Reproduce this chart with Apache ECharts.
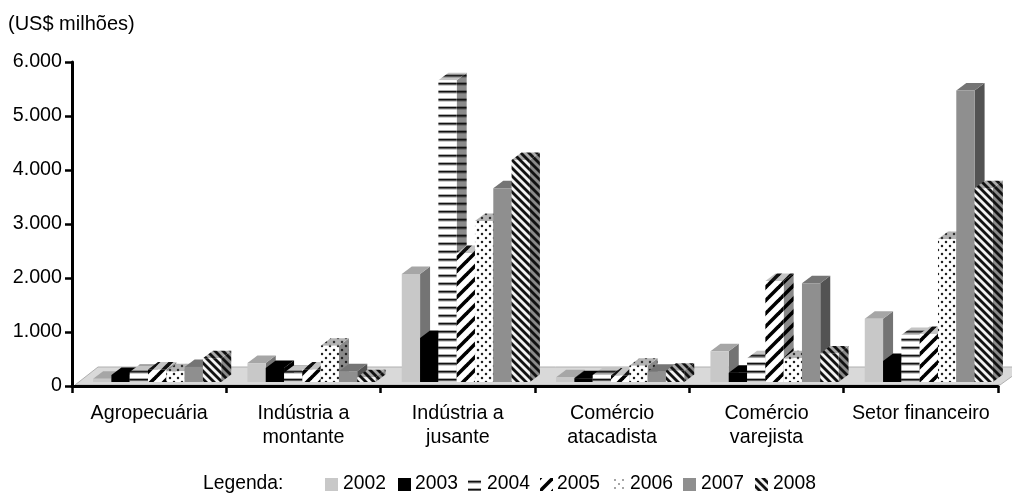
<!DOCTYPE html>
<html><head><meta charset="utf-8">
<script src="https://cdn.jsdelivr.net/npm/echarts@6/dist/echarts.min.js"></script>
<style>html,body{margin:0;padding:0;background:#fff}#c{width:1012px;height:493px}</style>
</head><body><div id="c"></div>
<script>
const categories = ['Agropecuária','Indústria a\nmontante','Indústria a\njusante','Comércio\natacadista','Comércio\nvarejista','Setor financeiro'];
const years = ['2002','2003','2004','2005','2006','2007','2008'];
const v2002 = [60,350,2000,90,570,1170];
const v2003 = [130,260,815,70,170,390];
const v2004 = [185,170,5590,130,440,870];
const v2005 = [230,230,2390,120,1870,890];
const v2006 = [200,670,2980,300,440,2650];
const v2007 = [280,200,3590,190,1830,5400];
const v2008 = [440,90,4110,210,530,3590];
const seriesValues = [v2002,v2003,v2004,v2005,v2006,v2007,v2008];
const FONT = '"Liberation Sans", Arial, sans-serif';

function tile(w,h,draw){const c=document.createElement('canvas');c.width=w;c.height=h;draw(c.getContext('2d'));return {image:c,repeat:'repeat'};}
function hLines(bg,fg){return tile(8,8,g=>{g.fillStyle=bg;g.fillRect(0,0,8,8);g.fillStyle=fg;g.fillRect(0,3,8,1.6);g.globalAlpha=.35;g.fillRect(0,2,8,1);g.fillRect(0,4.6,8,1);});}
function diag(bg,fg,up,period,lw){return tile(period,period,g=>{g.fillStyle=bg;g.fillRect(0,0,period,period);g.strokeStyle=fg;g.lineWidth=lw;
  for(let k=-1;k<=1;k++){g.beginPath();if(up){g.moveTo(k*period-1,period+1);g.lineTo(k*period+period+1,-1);}else{g.moveTo(k*period-1,-1);g.lineTo(k*period+period+1,period+1);}g.stroke();}});}
function dots(bg,fg,r){return tile(8,8,g=>{g.fillStyle=bg;g.fillRect(0,0,8,8);g.fillStyle=fg;[[2,2],[6,6]].forEach(p=>{g.beginPath();g.arc(p[0],p[1],r,0,7);g.fill();});});}
const faces = [
  {front:'#c8c8c8',top:'#a6a6a6',side:'#747474'},
  {front:'#000',top:'#000',side:'#000'},
  {front:hLines('#fff','#111'),top:hLines('#c4c4c4','#222'),side:hLines('#8a8a8a','#111')},
  {front:diag('#fff','#000',true,13,3.6),top:diag('#c4c4c4','#111',true,13,3.6),side:diag('#8a8a8a','#000',true,13,3.6)},
  {front:dots('#fff','#222',1.25),top:dots('#b4b4b4','#333',1.25),side:dots('#8a8a8a','#222',1.25)},
  {front:'#8f8f8f',top:'#757575',side:'#535353'},
  {front:diag('#f2f2f2','#111',false,8,2.8),top:diag('#aaa','#111',false,8,2.8),side:diag('#8a8a8a','#111',false,8,2.8)}
];

const chart = echarts.init(document.getElementById('c'),null,{renderer:'canvas'});
function renderBar(idx){
  return function(params,api){
    const cat=api.value(0), val=api.value(1);
    const p=api.coord([cat,val]), p0=api.coord([cat,0]);
    const band=api.size([1,0])[0];
    const w=band*0.1186, dx=10, dy=7.5, lift=4;
    const x=p[0]+8+(idx-3.5)*w, yB=p0[1]-lift, yT=p[1]-lift;
    const f=faces[idx];
    const poly=(pts,fill)=>({type:'polygon',shape:{points:pts},style:{fill:fill,stroke:null}});
    return {type:'group',children:[
      poly([[x+w,yT],[x+w+dx,yT-dy],[x+w+dx,yB-dy],[x+w,yB]],f.side),
      poly([[x,yT],[x+dx,yT-dy],[x+w+dx,yT-dy],[x+w,yT]],f.top),
      poly([[x,yT],[x+w,yT],[x+w,yB],[x,yB]],f.front)
    ]};
  };
}
const series = years.map((y,i)=>({
  type:'custom',name:y,coordinateSystem:'cartesian2d',silent:true,clip:false,animation:false,
  renderItem:renderBar(i),encode:{x:0,y:1},
  data:seriesValues[i].map((v,c)=>[c,v])
}));

const swatchX=[325,398,468,540,613,683,755];
const textX=[343,415,487,557,630,701,773];
const legendGraphics=[];
legendGraphics.push({type:'text',left:203,top:474,style:{text:'Legenda:',font:'19.3px '+FONT,fill:'#000'}});
const swatch=[faces[0].front,'#000',hLines('#fff','#111'),diag('#fff','#000',true,13,3.6),dots('#fff','#888',1),'#8f8f8f',diag('#f2f2f2','#111',false,8,2.8)];
years.forEach((y,i)=>{
  legendGraphics.push({type:'rect',x:swatchX[i],y:478,shape:{width:13,height:13},style:{fill:swatch[i]}});
  legendGraphics.push({type:'text',left:textX[i],top:474,style:{text:y,font:'19.3px '+FONT,fill:'#000'}});
});

chart.setOption({
  animation:false,backgroundColor:'#fff',
  grid:{left:72,top:62,width:926,height:324,containLabel:false},
  xAxis:{type:'category',data:categories,boundaryGap:true,
    axisLine:{lineStyle:{color:'#000',width:3}},
    axisTick:{show:true,alignWithLabel:false,length:7,lineStyle:{color:'#000',width:2.5}},
    axisLabel:{color:'#000',fontFamily:FONT,fontSize:19.7,lineHeight:24,margin:16,interval:0}},
  yAxis:{type:'value',min:0,max:6000,interval:1000,
    axisLine:{show:true,lineStyle:{color:'#000',width:3}},
    axisTick:{show:true,length:7,lineStyle:{color:'#000',width:2.5}},
    splitLine:{show:false},
    axisLabel:{color:'#000',fontFamily:FONT,fontSize:19.7,margin:10,
      formatter:v=>v===0?'0':String(v).replace(/(\d)(\d{3})$/,'$1.$2')}},
  graphic:{elements:[
    {type:'polygon',z:0,shape:{points:[[75,385],[98,367],[1025,367],[1000,385]]},style:{fill:'#d9d9d9',stroke:'#b0b0b0',lineWidth:1}},
    {type:'text',left:8,top:14,style:{text:'(US$ milhões)',font:'20px '+FONT,fill:'#000'}},
    ...legendGraphics
  ]},
  series
});
</script></body></html>
